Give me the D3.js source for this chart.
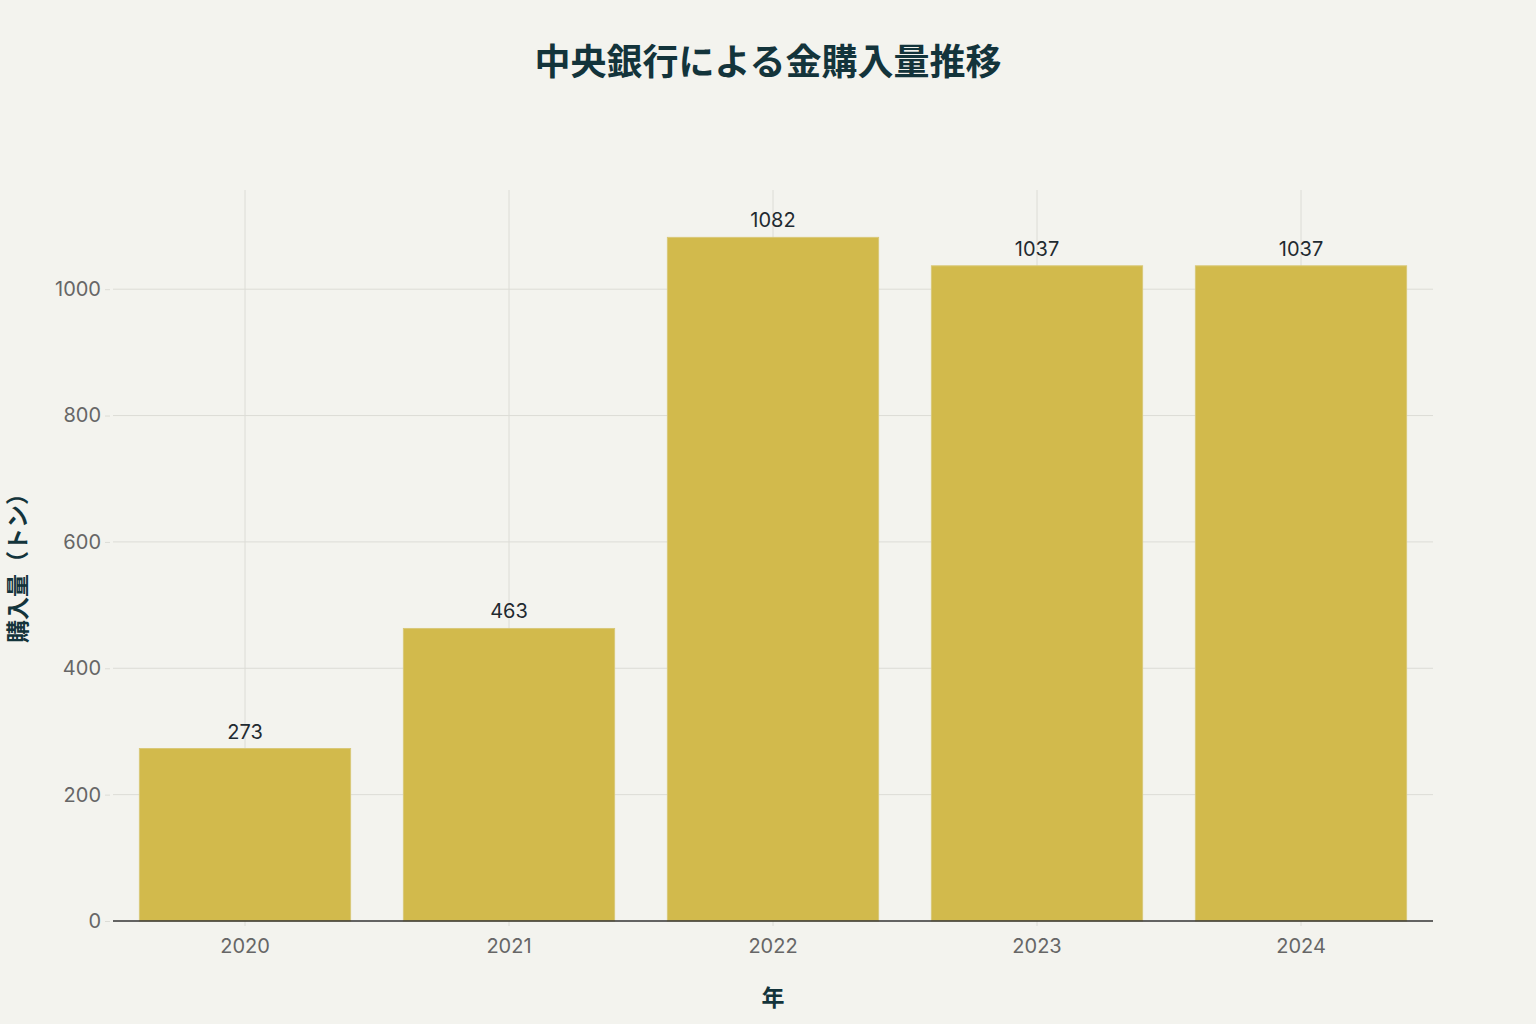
<!DOCTYPE html>
<html>
<head>
<meta charset="utf-8">
<script src="https://cdn.jsdelivr.net/npm/d3@7"></script>
<style>
  body { margin: 0; background: #f3f3ee; }
  svg { display: block; }
  text { font-family: Inter, "Noto Sans", "Noto Sans CJK JP", sans-serif; }
</style>
</head>
<body>
<svg id="chart"></svg>
<script>
// data
const years = ["2020", "2021", "2022", "2023", "2024"];
const purchases = [273, 463, 1082, 1037, 1037];
const yTicks = [0, 200, 400, 600, 800, 1000];

const titleText = "中央銀行による金購入量推移";
const xTitle = "年";
const yTitle = "購入量（トン）";

const W = 1536, H = 1024;
const margin = {top: 190, right: 103, bottom: 103, left: 113};
const width = W - margin.left - margin.right;
const height = H - margin.top - margin.bottom;

const svg = d3.select("#chart")
  .attr("width", W)
  .attr("height", H);

svg.append("rect")
  .attr("width", W).attr("height", H)
  .attr("fill", "#f3f3ee");

const chart = svg.append("g")
  .attr("transform", `translate(${margin.left},${margin.top})`);

const xScale = d3.scaleBand()
  .domain(years)
  .range([0, width])
  .paddingInner(0.2)
  .paddingOuter(0.1);

const yScale = d3.scaleLinear()
  .domain([0, 1157])
  .range([height, 0]);

const cx = d => xScale(d) + xScale.bandwidth() / 2;

// grid
chart.append("g")
  .selectAll("line")
  .data(yTicks.filter(d => d > 0))
  .join("line")
    .attr("x1", 0).attr("x2", width)
    .attr("y1", d => yScale(d)).attr("y2", d => yScale(d))
    .attr("stroke", "#dcdcd6").attr("stroke-width", 1);

chart.append("g")
  .selectAll("line")
  .data(years)
  .join("line")
    .attr("x1", cx).attr("x2", cx)
    .attr("y1", 0).attr("y2", height)
    .attr("stroke", "#dcdcd6").attr("stroke-width", 1);

// y axis
const yAxis = d3.axisLeft(yScale)
  .tickValues(yTicks)
  .tickSize(5)
  .tickPadding(4)
  .tickFormat(d => d);

const yAxisGroup = chart.append("g")
  .attr("class", "axis y-axis")
  .attr("transform", "translate(-3,0)")
  .call(yAxis);
yAxisGroup.select(".domain").remove();
yAxisGroup.selectAll("line").attr("stroke", "#dcdcd6");
yAxisGroup.selectAll("text")
  .attr("fill", "#666")
  .style("font-family", "Inter, sans-serif")
  .style("font-size", "20px");

// x axis
const xAxis = d3.axisBottom(xScale)
  .tickSize(5)
  .tickPadding(13)
  .tickSizeOuter(0);

const xAxisGroup = chart.append("g")
  .attr("class", "axis x-axis")
  .attr("transform", `translate(0,${height})`)
  .call(xAxis);
xAxisGroup.select(".domain").remove();
xAxisGroup.selectAll("line").attr("stroke", "#dcdcd6");
xAxisGroup.selectAll("text")
  .attr("fill", "#666")
  .style("font-family", "Inter, sans-serif")
  .style("font-size", "20px");

const rows = years.map((y, i) => ({x: y, y: purchases[i]}));

// bars
chart.selectAll("rect.bar")
  .data(rows)
  .join("rect")
    .attr("class", "bar")
    .attr("x", d => xScale(d.x))
    .attr("y", d => yScale(d.y))
    .attr("width", xScale.bandwidth())
    .attr("height", d => height - yScale(d.y))
    .attr("fill", "#d2ba4c")
    .attr("stroke", "#d9c878")
    .attr("stroke-width", 1);

// zero line
chart.append("line")
  .attr("x1", 0).attr("x2", width)
  .attr("y1", yScale(0)).attr("y2", yScale(0))
  .attr("stroke", "#333").attr("stroke-width", 1.3);

// value labels
chart.selectAll("text.val")
  .data(rows)
  .join("text")
    .attr("class", "val")
    .attr("x", d => cx(d.x))
    .attr("y", d => yScale(d.y) - 10)
    .attr("text-anchor", "middle")
    .attr("fill", "#1f2a30")
    .style("font-family", "Inter, sans-serif")
    .style("font-size", "20px")
    .text(d => d.y);

// titles
svg.append("text")
  .attr("x", W / 2).attr("y", 75)
  .attr("text-anchor", "middle")
  .attr("fill", "#13343b")
  .style("font-family", "'Noto Sans CJK JP', sans-serif")
  .style("font-weight", "bold")
  .style("font-size", "36px")
  .text(titleText);

svg.append("text")
  .attr("x", margin.left + width / 2).attr("y", 1006)
  .attr("text-anchor", "middle")
  .attr("fill", "#13343b")
  .style("font-family", "'Noto Sans CJK JP', sans-serif")
  .style("font-weight", "bold")
  .style("font-size", "23px")
  .text(xTitle);

svg.append("text")
  .attr("transform", `translate(26,${margin.top + height / 2 + 7}) rotate(-90)`)
  .attr("text-anchor", "middle")
  .attr("fill", "#13343b")
  .style("font-family", "'Noto Sans CJK JP', sans-serif")
  .style("font-weight", "bold")
  .style("font-size", "23px")
  .text(yTitle);
</script>
</body>
</html>
